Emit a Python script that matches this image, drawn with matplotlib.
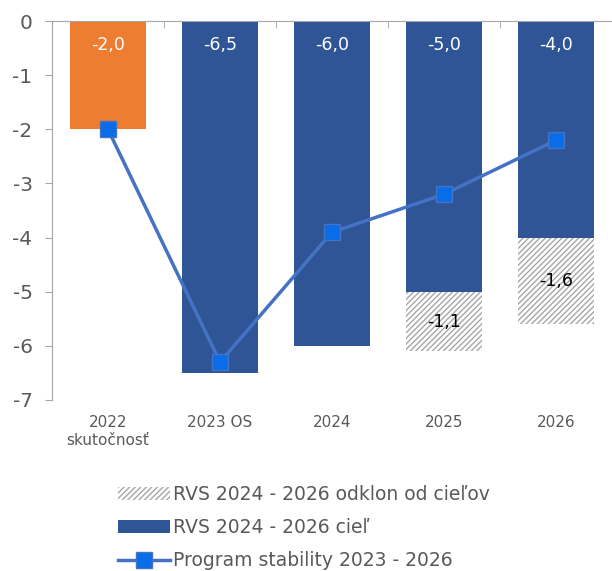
import matplotlib.pyplot as plt
import numpy as np

years = ["2022\nskutočnosť", "2023 OS", "2024", "2025", "2026"]
target = [-2.0, -6.5, -6.0, -5.0, -4.0]
deviation = [0.0, 0.0, 0.0, -1.1, -1.6]
stability = [-2.0, -6.3, -3.9, -3.2, -2.2]

ORANGE = "#ED7D31"
BLUE = "#2F5597"
LINE = "#4472C4"
MARKER = "#0A6DE8"
GREY = "#595959"

plt.rcParams["font.family"] = "DejaVu Sans"
plt.rcParams["hatch.color"] = "#A6A6A6"
plt.rcParams["hatch.linewidth"] = 1.0

fig = plt.figure(figsize=(6.12, 5.71), dpi=100)
ax = fig.add_axes([0.085, 0.2995, 0.915, 0.6635])

x = np.arange(len(years))
colors = [ORANGE] + [BLUE] * (len(years) - 1)
bars = ax.bar(x, target, width=0.68, color=colors, zorder=2)
dev = ax.bar(x, deviation, width=0.68, bottom=target, color="white",
             hatch="//////", edgecolor="#A6A6A6", linewidth=0, zorder=2)
line, = ax.plot(x, stability, color=LINE, linewidth=2.5, marker="s",
                markersize=11.5, markerfacecolor=MARKER, markeredgecolor=LINE,
                zorder=3)

def fmt(v):
    return ("%.1f" % v).replace(".", ",")

# value labels just inside the top of each bar
for i, v in enumerate(target):
    ax.text(x[i], -0.45, fmt(v), ha="center", va="center", color="white",
            fontsize=12.5, zorder=4)
for i, v in enumerate(deviation):
    if v != 0:
        ax.text(x[i], target[i] + v / 2, fmt(v), ha="center", va="center",
                color="black", fontsize=12.5, zorder=4)

ax.set_xlim(-0.5, len(years) - 0.5)
ax.set_ylim(-7, 0)
ax.set_yticks(range(-7, 1))
ax.set_yticklabels([str(t) for t in range(-7, 1)])
ax.set_xticks(x)
ax.set_xticklabels(years, fontsize=11, color=GREY)
ax.set_xticks(np.arange(-0.5, len(years)), minor=True)
ax.tick_params(axis="x", which="major", length=0, pad=11)
ax.tick_params(axis="x", which="minor", top=True, bottom=False,
               direction="in", length=5, color="#A6A6A6")
ax.tick_params(axis="y", labelsize=14.5, labelcolor=GREY, length=5,
               color="#A6A6A6", pad=9)

for side in ["right", "bottom"]:
    ax.spines[side].set_visible(False)
ax.spines["top"].set_color("#A6A6A6")
ax.spines["left"].set_color("#A6A6A6")
ax.spines["top"].set_zorder(5)

fig.legend([dev, bars[1], line],
           ["RVS 2024 - 2026 odklon od cieľov", "RVS 2024 - 2026 cieľ",
            "Program stability 2023 - 2026"],
           loc="upper left", bbox_to_anchor=(0.18, 0.163), frameon=False,
           fontsize=13.5, labelcolor=GREY, handlelength=2.8, handletextpad=0.15,
           labelspacing=0.74, borderaxespad=0)

fig.savefig("out.png", dpi=100)
